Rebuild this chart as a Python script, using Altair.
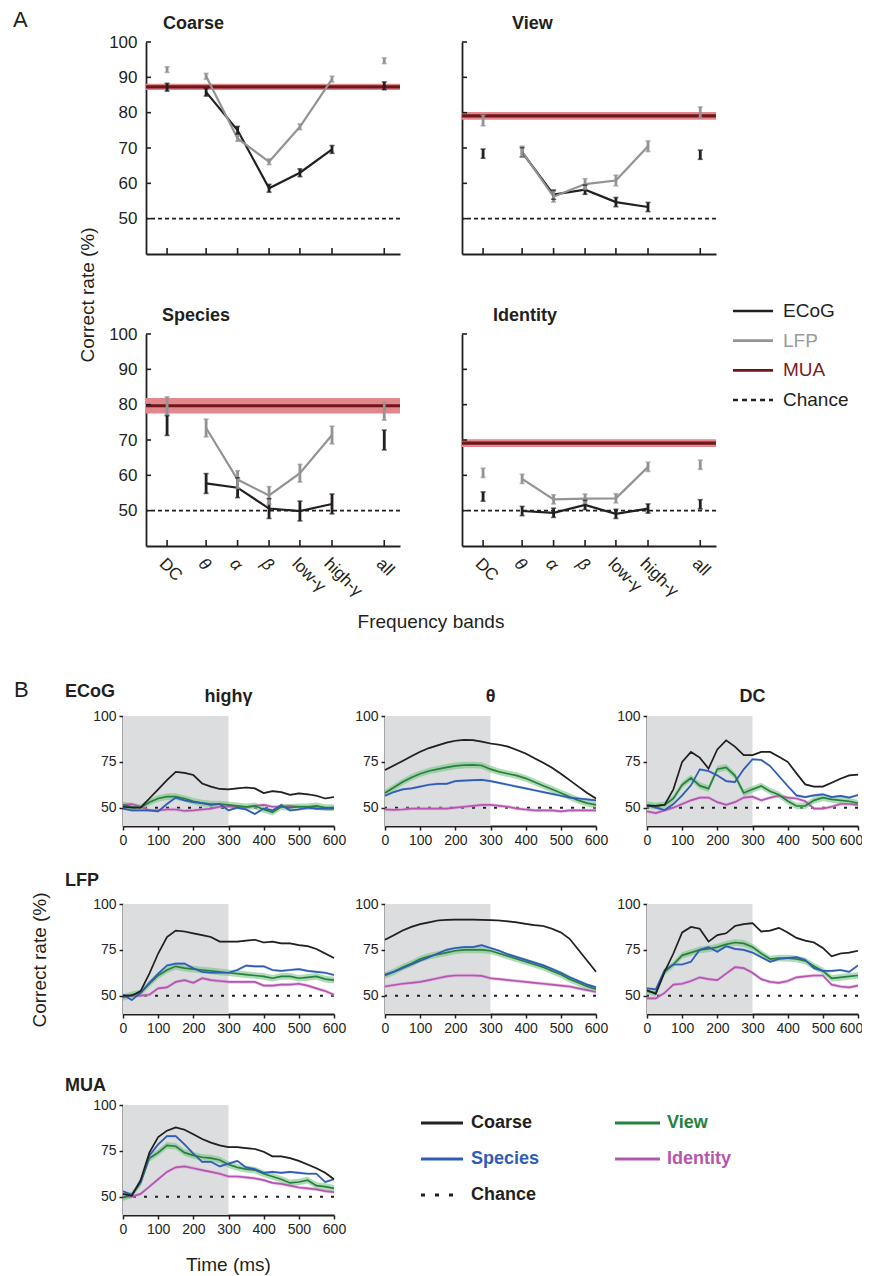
import altair as alt
import pandas as pd

FONT = "Liberation Sans"
INK = "#231f20"

# ================= Part A values =================
bands = ["DC", "θ", "α", "β", "low-γ", "high-γ", "all"]
linked_bands = ["θ", "α", "β", "low-γ", "high-γ"]
band_x = [0.0, 1.24, 2.24, 3.24, 4.22, 5.24, 6.9]      # x layout of the bands
yticks_A = [50, 60, 70, 80, 90, 100]
chance = [50]

ecog_coarse = [87.2, 85.8, 75.0, 58.6, 63.0, 69.6, 87.6]
lfp_coarse = [92.2, 90.3, 72.7, 66.1, 76.0, 89.5, 94.7]
ecog_view = [68.4, 68.8, 56.8, 58.2, 54.7, 53.3, 68.1]
lfp_view = [77.8, 69.0, 56.2, 59.8, 60.8, 70.5, 80.1]
ecog_species = [74.1, 57.7, 56.5, 50.6, 49.9, 51.9, 70.0]
lfp_species = [79.7, 73.4, 58.8, 54.3, 60.6, 71.4, 78.1]
ecog_identity = [54.0, 49.9, 49.4, 51.6, 49.1, 50.6, 51.8]
lfp_identity = [60.7, 59.0, 53.2, 53.4, 53.5, 62.4, 63.0]

err_ecog = {"Coarse": 1.1, "View": 1.3, "Species": 2.8, "Identity": 1.3}
err_lfp = {"Coarse": 0.8, "View": 1.5, "Species": 2.5, "Identity": 1.3}
mua_mean = {"Coarse": 87.3, "View": 79.1, "Species": 79.7, "Identity": 69.1}
mua_half = {"Coarse": 0.9, "View": 1.1, "Species": 2.2, "Identity": 1.1}

legA_items = ["ECoG", "LFP", "MUA", "Chance"]

# ================= Part B values =================
times = [0, 25, 50, 75, 100, 125, 150, 175, 200, 225, 250, 275, 300,
         325, 350, 375, 400, 425, 450, 475, 500, 525, 550, 575, 600]
stim_window = [0, 300]
tasks_B = ["Identity", "View", "Species", "Coarse"]   # drawing order

ecog_hg = {
    "Coarse": [50.5, 50, 50, 55, 60, 65, 69.5, 69, 67.8, 63.2, 61.5, 60.2, 60, 60.5, 61, 60.5, 58, 59, 58.5, 57, 57.8, 57.3, 56.5, 55, 55.8],
    "View": [51.5, 50.5, 50, 53, 55, 56, 56, 55, 53.5, 52.5, 52, 52, 51.5, 51, 50.5, 51, 49, 47.5, 50.5, 50, 50.5, 50.5, 51, 50, 50],
    "Species": [49.5, 48.5, 48.5, 48.5, 48, 52, 55.5, 54, 53, 52.5, 51.5, 52, 48.5, 50, 49, 46.5, 49.5, 48.5, 51.5, 48.5, 49, 50, 49.5, 49.5, 49.5],
    "Identity": [51.5, 52, 50.5, 48.5, 48.5, 49, 49, 48.2, 48.5, 49, 49.5, 50.5, 50.8, 50.5, 50, 51, 51.5, 50.5, 50.5, 51, 50.5, 50.5, 49.5, 49.5, 49.5],
}
ecog_theta = {
    "Coarse": [70.5, 73, 75.5, 78, 80.5, 82.5, 84, 85.5, 86.5, 87, 86.8, 86, 85, 84.3, 83.3, 81.5, 79.5, 77, 74.5, 71.8, 68.5, 65, 61.5, 58, 55],
    "View": [58, 61, 64, 66.5, 68.5, 70, 71, 72, 72.8, 73.2, 73.3, 73, 71, 69.5, 68.5, 67.5, 66, 64, 62, 60, 58, 56, 54, 52.5, 51.5],
    "Species": [56.5, 58.5, 60, 60.5, 61.5, 62.5, 63, 63, 64.5, 64.8, 65, 65.2, 64.5, 63.5, 62.5, 61.5, 60.5, 59.5, 58.5, 57.5, 56.5, 55.5, 55, 54.5, 54],
    "Identity": [49, 48.8, 49, 49.5, 49.5, 49.5, 49.5, 49.5, 50, 50.5, 51, 51.5, 51.5, 51, 50.5, 49.5, 49, 48.5, 48.5, 48.5, 48, 48.5, 48.5, 48.5, 48.5],
}
ecog_dc = {
    "Coarse": [51, 51, 51.5, 60, 75, 80.4, 77.3, 71.3, 81.8, 86.7, 83.3, 78.7, 78.7, 80.4, 80.4, 77.8, 75, 68.7, 62.7, 61.5, 61.5, 63.6, 65.8, 67.6, 68],
    "View": [51.5, 51, 51.5, 55, 62.5, 66.2, 62, 60.4, 71, 72, 67.5, 58, 60, 61.8, 59, 57, 53.6, 50.9, 51, 54, 55.5, 54.5, 54, 53.5, 52.5],
    "Species": [51.3, 50, 48.7, 52, 56.7, 62.2, 70.9, 70, 67.6, 64.5, 64, 70.9, 76.4, 76, 72.7, 67.3, 61.8, 56.7, 55.8, 56.7, 57.3, 55.8, 56.4, 55.5, 56.9],
    "Identity": [48, 47, 48.5, 50, 52, 54, 55.5, 55.5, 53, 51.5, 53, 55.5, 56, 54, 55.5, 56.5, 55.5, 55, 53.5, 49.5, 49.5, 50.5, 52, 52, 51.5],
}
lfp_hg = {
    "Coarse": [50, 50, 52.5, 62, 73, 82, 85.5, 85, 84, 83, 82, 79.5, 79.5, 79.5, 80, 80.5, 79, 79.5, 78.5, 78.5, 77.6, 77, 75.5, 73, 70.5],
    "View": [49, 50.5, 51.5, 56.5, 61, 64, 66, 65, 64.5, 64, 63.5, 63, 62.5, 62, 61.5, 61, 60.5, 59.5, 60.5, 60.5, 59.5, 60, 60.5, 59, 58.5],
    "Species": [50.5, 47.6, 51.5, 57, 62, 66.5, 67.5, 67.5, 65, 63, 62.5, 62.5, 62.5, 64, 66.4, 66, 66, 64, 63.5, 64, 64.5, 63.5, 63, 62.5, 61.3],
    "Identity": [50, 50, 50, 50.5, 54, 54.5, 57.5, 58.5, 57, 59.5, 58.5, 58, 57.5, 57.5, 57.5, 57.5, 55.5, 55.5, 56, 56, 56.5, 55.5, 54, 52.5, 50.5],
}
lfp_theta = {
    "Coarse": [80.5, 83, 85.5, 87.5, 89, 90, 91, 91.3, 91.5, 91.5, 91.5, 91.3, 91.2, 91, 90.5, 90, 89.2, 88.5, 88, 86.5, 84.5, 81, 75, 69, 63],
    "View": [61, 63, 65.5, 67.5, 70, 71.5, 72.5, 73.5, 74.5, 75, 75, 75, 74.5, 73, 71.5, 70, 68.5, 67, 65.5, 63.5, 61.5, 59, 57, 55, 53.5],
    "Species": [61.5, 63, 65, 67, 69, 71, 73, 75, 76, 76.5, 76.5, 77.5, 76, 74.5, 72.5, 71, 69.5, 68, 66.5, 64.5, 62.5, 60, 58, 56, 54.5],
    "Identity": [55, 55.8, 56.5, 57, 57.5, 58.5, 59.5, 60.5, 61, 61, 61, 60.8, 59.5, 59, 58.5, 58, 57.5, 57, 56.5, 56, 55.5, 55, 54, 53, 52],
}
lfp_dc = {
    "Coarse": [53, 51, 63, 73, 84.5, 87.5, 86.5, 79.5, 83, 84, 88, 89, 89.5, 85, 85.5, 87, 84.5, 81.5, 80, 79, 76, 71.5, 73, 73.5, 74.5],
    "View": [52.5, 51.5, 63, 67, 72, 73.5, 75, 75.5, 76.5, 78, 79, 78.5, 76.5, 73, 70, 70.5, 70.5, 70, 69, 66, 63.5, 59.5, 60, 60.5, 61],
    "Species": [54, 53.5, 64, 67, 67, 68.5, 75, 76.5, 74, 77, 75.5, 75, 73.5, 71, 68.5, 70, 70.5, 71, 69.5, 65, 63.5, 63.5, 64, 63, 66.5],
    "Identity": [48.5, 48.5, 51.5, 56, 56.5, 58, 60, 59, 58.5, 62, 65.5, 65, 62.5, 59, 57.5, 57, 58, 60, 60.5, 61, 61, 56, 55, 54.5, 55.5],
}
mua_time = {
    "Coarse": [51.5, 50.5, 59, 74, 82.5, 86, 87.8, 86.5, 84, 81.5, 79.5, 78, 77, 77, 76.5, 76, 74.5, 72, 72, 71, 69.5, 67.5, 65.5, 63, 59.5],
    "View": [49.5, 51, 57.5, 71, 74, 78, 77.5, 74, 72.5, 71.5, 71, 70, 67.5, 66, 65, 64.5, 62.5, 61, 59.5, 57.5, 58, 59, 56, 55.5, 54.5],
    "Species": [53, 51, 58, 72.5, 78.5, 83, 83, 78.5, 73.5, 69, 69, 66.5, 68, 69.5, 66, 65, 63, 63.5, 63, 63.5, 63, 62.5, 62.5, 58, 59.5],
    "Identity": [50, 50, 51.5, 55.5, 59.5, 63.5, 66, 66.5, 65.5, 64.5, 63.5, 62.5, 61, 61, 60.5, 60, 59, 57.5, 57, 56, 55, 54.5, 54, 53, 52.5],
}
se_B = {"Identity": 0.9, "View": 1.8, "Species": 0.7, "Coarse": 0.5}

legB_items = ["Coarse", "Species", "Chance", "View", "Identity"]
legB_row = [0, 1, 2, 0, 1]
legB_col = [0, 0, 0, 1, 1]

# ================= styles =================
line_colors_B = {"Identity": "#b356b0", "View": "#25813c", "Species": "#2f5cb4", "Coarse": INK}
band_colors_B = {"Identity": "#dc9bd8", "View": "#79c486", "Species": "#8ea6e0", "Coarse": "#a0a0a0"}
WA, HA = 254, 212
WB, HB = 211, 110
NOVIEW = alt.ViewBackground(strokeOpacity=0, strokeWidth=0)


def R(c):
    return c.resolve_scale(color="independent", fill="independent", stroke="independent",
                           strokeDash="independent")


def txt(s, x, y, size=18, weight="normal", align="left", baseline="alphabetic", angle=0, color=INK):
    kw = dict(align=align, baseline=baseline, font=FONT, fontSize=size, fontWeight=weight, color=color)
    if angle:
        kw["angle"] = angle
    return alt.Chart(pd.DataFrame({"s": [s]})).mark_text(**kw).encode(
        text="s:N", x=alt.value(x), y=alt.value(y))


def spacer(w, h):
    return alt.Chart(pd.DataFrame({"z": [0]})).mark_point(opacity=0).encode(
        x=alt.value(0), y=alt.value(0)).properties(width=w, height=h, view=NOVIEW)


# ---------- Part A panels ----------
mids = [(band_x[i] + band_x[i + 1]) / 2 for i in range(len(band_x) - 1)]
LEXPR = "'" + bands[-1] + "'"
for i in reversed(range(len(mids))):
    LEXPR = f"datum.value < {mids[i]:.3f} ? '{bands[i]}' : ({LEXPR})"
ITALIC = {"condition": {"test": f"datum.value > {mids[0]:.3f} && datum.value < {mids[3]:.3f}",
                        "value": "italic"}, "value": "normal"}


def xA(field, labels):
    return alt.X(field, type="quantitative",
                 scale=alt.Scale(domain=[-0.67, 7.4], nice=False, zero=False),
                 axis=alt.Axis(values=band_x, labelExpr=LEXPR, labels=labels, ticks=False, grid=False,
                               title=None, domainColor=INK, domainWidth=1.8, labelAngle=45,
                               labelAlign="left", labelBaseline="top", labelOverlap=False,
                               labelFontSize=17, labelFont=FONT, labelColor=INK, labelPadding=9,
                               labelFontStyle=ITALIC))


def yA(field, labels):
    return alt.Y(field, type="quantitative",
                 scale=alt.Scale(domain=[40, 100], nice=False, zero=False),
                 axis=alt.Axis(values=yticks_A, labels=labels, ticks=False, grid=False, title=None,
                               domainColor=INK, domainWidth=1.8, labelFontSize=17, labelFont=FONT,
                               labelColor=INK, labelPadding=9, labelOverlap=False))


def panel_a(task, ecog, lfp, show_y, show_x, title_dx, extras=()):
    rows = []
    for b, p, e, l in zip(bands, band_x, ecog, lfp):
        rows.append({"band": b, "pos": p, "sig": "ECoG", "v": e,
                     "lo": e - err_ecog[task], "hi": e + err_ecog[task]})
        rows.append({"band": b, "pos": p, "sig": "LFP", "v": l,
                     "lo": l - err_lfp[task], "hi": l + err_lfp[task]})
    df = pd.DataFrame(rows)
    base = alt.Chart(df)
    col = alt.Color("sig:N", scale=alt.Scale(domain=["LFP", "ECoG"], range=["#939393", INK]), legend=None)
    m, h = mua_mean[task], mua_half[task]
    mua_df = pd.DataFrame({"m": [m], "lo": [m - h], "hi": [m + h]})
    X = lambda f: xA(f, show_x)
    Y = lambda f: yA(f, show_y)
    layers = [
        alt.Chart(mua_df).mark_rect(color="#e2878d").encode(
            x=alt.value(0), x2=alt.value(WA), y=Y("lo"), y2=alt.Y2("hi")),
        alt.Chart(mua_df).mark_rule(color="#6e161a", strokeWidth=3.2).encode(y=Y("m")),
        alt.Chart(pd.DataFrame({"c": chance})).mark_rule(
            color=INK, strokeDash=[4, 3], strokeWidth=1.6).encode(y=Y("c")),
        base.transform_filter(alt.FieldOneOfPredicate(field="band", oneOf=linked_bands)).mark_line(
            strokeWidth=2.2).encode(x=X("pos"), y=Y("v"), color=col, detail="sig:N"),
        base.mark_rule(strokeWidth=2.8).encode(x=X("pos"), y=Y("lo"), y2=alt.Y2("hi"), color=col),
        base.mark_tick(orient="horizontal", size=5, thickness=1.6).encode(x=X("pos"), y=Y("lo"), color=col),
        base.mark_tick(orient="horizontal", size=5, thickness=1.6).encode(x=X("pos"), y=Y("hi"), color=col),
        alt.Chart(pd.DataFrame({"t": yticks_A})).mark_rule(color=INK, strokeWidth=1.6).encode(
            y=Y("t"), x=alt.value(0), x2=alt.value(5)),
        alt.Chart(pd.DataFrame({"p": band_x})).mark_rule(color=INK, strokeWidth=1.6).encode(
            x=X("p"), y=alt.value(HA), y2=alt.value(HA - 6)),
        txt(task, title_dx, -13, size=18, weight="bold"),
    ]
    return alt.layer(*layers, *extras).properties(width=WA, height=HA, view=NOVIEW)


coarse = panel_a("Coarse", ecog_coarse, lfp_coarse, True, False, 17,
                 extras=[txt("A", -133, -15, size=22),
                         txt("Correct rate (%)", -58, 253, size=19, align="center",
                             baseline="middle", angle=270)])
view = panel_a("View", ecog_view, lfp_view, False, False, 50)
species = panel_a("Species", ecog_species, lfp_species, True, True, 16,
                  extras=[txt("Frequency bands", 285, 288, size=19, align="center", baseline="middle")])
identity = panel_a("Identity", ecog_identity, lfp_identity, False, True, 31)

# legend A
yL = alt.Y("k:N", scale=alt.Scale(type="point", domain=legA_items, range=[-23, 66], padding=0), axis=None)
legA = alt.layer(
    alt.Chart(pd.DataFrame({"k": legA_items})).mark_rule(strokeWidth=2.6).encode(
        y=yL, x=alt.value(0), x2=alt.value(40),
        stroke=alt.Stroke("k:N", scale=alt.Scale(domain=legA_items, range=[INK, "#939393", "#6e161a", INK]), legend=None),
        strokeDash=alt.StrokeDash("k:N", scale=alt.Scale(domain=legA_items, range=[[1, 0], [1, 0], [1, 0], [5, 4]]), legend=None)),
    alt.Chart(pd.DataFrame({"k": legA_items})).mark_text(align="left", baseline="middle", font=FONT, fontSize=19).encode(
        y=yL, x=alt.value(50), text="k:N",
        fill=alt.Fill("k:N", scale=alt.Scale(domain=legA_items, range=[INK, "#9a9a9a", "#7b1c20", INK]), legend=None)),
).properties(width=120, height=100, view=NOVIEW)


# ---------- Part B panels ----------
def xB(field, last_shift=0):
    extra = {}
    if last_shift:
        extra["labelOffset"] = {"condition": {"test": "datum.value == 600", "value": last_shift}, "value": 0}
    return alt.X(field, type="quantitative", scale=alt.Scale(domain=[0, 600], nice=False, zero=False),
                 axis=alt.Axis(values=[0, 100, 200, 300, 400, 500, 600], grid=False, title=None, tickSize=4,
                               tickColor=INK, tickWidth=1.5, domainColor=INK, domainWidth=1.8,
                               labelFontSize=14, labelFont=FONT, labelColor=INK, labelPadding=3,
                               labelFlush=False, labelOverlap=False, **extra))


def yB(field):
    return alt.Y(field, type="quantitative", scale=alt.Scale(domain=[40, 100], nice=False, zero=False),
                 axis=alt.Axis(values=[50, 75, 100], grid=False, title=None, tickSize=4, tickColor=INK,
                               tickWidth=1.5, domainColor=INK, domainWidth=1.8, labelFontSize=14,
                               labelFont=FONT, labelColor=INK, labelPadding=3))


def panel_b(series, extras=(), last_shift=0):
    rows = []
    for task in tasks_B:
        se = se_B[task]
        for t, v in zip(times, series[task]):
            rows.append({"task": task, "t": t, "v": v, "lo": v - se, "hi": v + se})
    df = pd.DataFrame(rows)
    base = alt.Chart(df)
    X = lambda f: xB(f, last_shift)
    layers = [
        alt.Chart(pd.DataFrame({"s": [stim_window[0]], "e": [stim_window[1]]})).mark_rect(color="#dcdddf").encode(
            x=X("s"), x2=alt.X2("e"), y=alt.value(0), y2=alt.value(HB)),
        alt.Chart(pd.DataFrame({"c": chance})).mark_rule(color=INK, strokeDash=[3, 8], strokeWidth=2).encode(
            y=yB("c")),
        base.mark_area(opacity=0.6).encode(
            x=X("t"), y=yB("lo"), y2=alt.Y2("hi"),
            fill=alt.Fill("task:N", scale=alt.Scale(domain=tasks_B, range=[band_colors_B[t] for t in tasks_B]), legend=None)),
        base.mark_line(strokeWidth=1.7).encode(
            x=X("t"), y=yB("v"),
            stroke=alt.Stroke("task:N", scale=alt.Scale(domain=tasks_B, range=[line_colors_B[t] for t in tasks_B]), legend=None)),
    ]
    return alt.layer(*layers, *extras).properties(width=WB, height=HB, view=NOVIEW)


b_ecog_hg = panel_b(ecog_hg, [txt("B", -109, -19, size=22), txt("ECoG", -58, -19, size=18, weight="bold"),
                              txt("highγ", WB / 2, -14, size=18, weight="bold", align="center")])
b_ecog_th = panel_b(ecog_theta, [txt("θ", WB / 2, -14, size=18, weight="bold", align="center")])
b_ecog_dc = panel_b(ecog_dc, [txt("DC", WB / 2, -14, size=18, weight="bold", align="center")], last_shift=-7)
b_lfp_hg = panel_b(lfp_hg, [txt("LFP", -58, -18, size=18, weight="bold"),
                            txt("Correct rate (%)", -83, 56, size=19, align="center", baseline="middle", angle=270)])
b_lfp_th = panel_b(lfp_theta)
b_lfp_dc = panel_b(lfp_dc, last_shift=-7)
b_mua = panel_b(mua_time, [txt("MUA", -58, -14, size=18, weight="bold"),
                           txt("Time (ms)", WB / 2, 160, size=19, align="center", baseline="middle")])

# legend B
legB_df = pd.DataFrame({"k": legB_items, "row": legB_row, "col": legB_col})
yLB = alt.Y("row:O", scale=alt.Scale(type="point", domain=[0, 1, 2], range=[18, 90], padding=0), axis=None)
legB_cols = [INK, line_colors_B["Species"], INK, line_colors_B["View"], line_colors_B["Identity"]]
legB_stroke = alt.Stroke("k:N", scale=alt.Scale(domain=legB_items, range=legB_cols), legend=None)
legB_dash = alt.StrokeDash("k:N", scale=alt.Scale(domain=legB_items, range=[[1, 0], [1, 0], [4, 10], [1, 0], [1, 0]]), legend=None)
legB_fill = alt.Fill("k:N", scale=alt.Scale(domain=legB_items, range=legB_cols), legend=None)
legB_base = alt.Chart(legB_df)
legB = alt.layer(
    legB_base.transform_filter("datum.col == 0").mark_rule(strokeWidth=3).encode(
        y=yLB, x=alt.value(0), x2=alt.value(42), stroke=legB_stroke, strokeDash=legB_dash),
    legB_base.transform_filter("datum.col == 1").mark_rule(strokeWidth=3).encode(
        y=yLB, x=alt.value(194), x2=alt.value(239), stroke=legB_stroke, strokeDash=legB_dash),
    legB_base.transform_filter("datum.col == 0").mark_text(align="left", baseline="middle", font=FONT,
                                                           fontSize=18, fontWeight="bold").encode(
        y=yLB, x=alt.value(50), text="k:N", fill=legB_fill),
    legB_base.transform_filter("datum.col == 1").mark_text(align="left", baseline="middle", font=FONT,
                                                           fontSize=18, fontWeight="bold").encode(
        y=yLB, x=alt.value(246), text="k:N", fill=legB_fill),
).properties(width=300, height=HB, view=NOVIEW)

# ---------- assemble (flush layout: nested rows take no room, spacers set the pitch) ----------
rowA1 = R(alt.hconcat(spacer(23, 1), coarse, spacer(62, 1), view, spacing=0, bounds="flush"))
rowA2 = R(alt.hconcat(spacer(23, 1), species, spacer(62, 1), identity, spacer(17, 1), legA,
                      spacing=0, bounds="flush"))
rowB1 = R(alt.hconcat(b_ecog_hg, b_ecog_th, b_ecog_dc, spacing=51, bounds="flush"))
rowB2 = R(alt.hconcat(b_lfp_hg, b_lfp_th, b_lfp_dc, spacing=51, bounds="flush"))
rowB3 = R(alt.hconcat(b_mua, legB, spacing=87, bounds="flush"))

chart = R(alt.vconcat(rowA1, spacer(1, 292), rowA2, spacer(1, 382), rowB1, spacer(1, 188), rowB2,
                      spacer(1, 201), rowB3, spacing=0, bounds="flush")).properties(
    autosize=alt.AutoSizeParams(type="none"),
    padding={"left": 115, "top": 34, "right": 739, "bottom": 1234}
).configure_view(strokeWidth=0, stroke="transparent").configure(font=FONT)

chart.save("out.html", embed_options={"renderer": "svg", "actions": False})
